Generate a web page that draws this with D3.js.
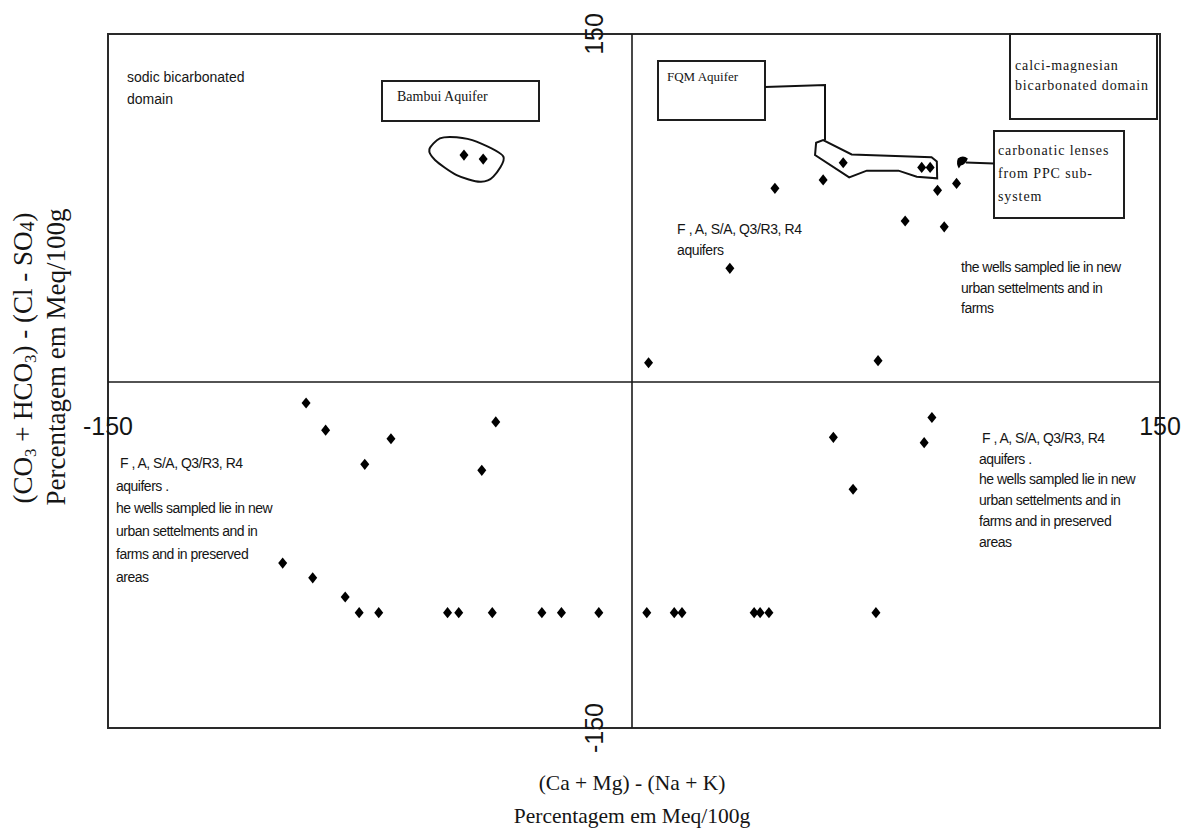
<!DOCTYPE html>
<html>
<head>
<meta charset="utf-8">
<script src="https://cdn.jsdelivr.net/npm/d3@7/dist/d3.min.js"></script>
<style>
  body { margin: 0; background: #fff; }
  text { fill: #151515; }
  .sans { font-family: "Liberation Sans", Arial, sans-serif; }
  .serif { font-family: "Liberation Serif", "Times New Roman", serif; }
</style>
</head>
<body>
<div id="chart"></div>
<script>
// values, in Meq/100g units
var xTicks = [-150, 150];
var yTicks = [150, -150];

var bambuiX = [-48.1, -42.6];
var bambuiY = [97.8, 96.1];

var fqmX = [60.0, 82.3, 84.7];
var fqmY = [94.5, 92.5, 92.5];

var lensX = [93.7];
var lensY = [95.0];

var upperRightX = [54.3, 40.6, 86.8, 92.2, 77.6, 88.7, 27.8, 4.7, 69.9];
var upperRightY = [87.1, 83.5, 82.6, 85.6, 69.4, 66.9, 49.0, 8.3, 9.2];

var lowerLeftX = [-93.3, -87.7, -69.0, -76.5, -39.0, -43.0, -100.0, -91.4, -82.1,
                  -78.1, -72.5, -52.8, -49.6, -40.0, -25.8, -20.2, -9.5];
var lowerLeftY = [-9.1, -20.9, -24.6, -35.7, -17.3, -38.3, -78.5, -84.9, -93.2,
                  -100, -100, -100, -100, -100, -100, -100, -100];

var lowerRightX = [4.2, 12.0, 14.2, 34.7, 36.4, 38.9, 69.3, 57.2, 85.2, 83.0, 62.8];
var lowerRightY = [-100, -100, -100, -100, -100, -100, -100, -24.0, -15.4, -26.3, -46.5];

// outlines drawn round the aquifer groups
var bambuiHullX = [-58.0, -55.0, -50.2, -44.5, -36.8, -39.7, -43.5, -50.2, -56.4];
var bambuiHullY = [100.3, 105.0, 105.5, 103.6, 97.1, 88.5, 86.3, 89.2, 95.7];
var fqmHullX = [52.3, 52.0, 61.7, 66.7, 75.7, 80.9, 86.7, 86.6, 85.1, 62.4, 54.3];
var fqmHullY = [103.1, 97.8, 88.2, 91.1, 91.1, 88.5, 87.8, 95.0, 96.9, 98.1, 104.3];

var w = 1184;
var h = 838;

var svg = d3.select("#chart").append("svg")
  .attr("width", w)
  .attr("height", h)
  .style("background", "#fff");

var x = d3.scaleLinear().domain([-150, 0, 150]).range([108, 632, 1160]);
var y = d3.scaleLinear().domain([-150, 0, 150]).range([728, 382, 34]);

function zip(xs, ys) {
  return xs.map(function(d, i) { return [d, ys[i]]; });
}

var allPoints = [].concat(
  zip(bambuiX, bambuiY),
  zip(fqmX, fqmY),
  zip(upperRightX, upperRightY),
  zip(lowerLeftX, lowerLeftY),
  zip(lowerRightX, lowerRightY)
);

// frame and crossing axes
svg.append("rect")
  .attr("x", x(-150)).attr("y", y(150))
  .attr("width", x(150) - x(-150))
  .attr("height", y(-150) - y(150))
  .attr("fill", "none")
  .attr("stroke", "#2a2a2a")
  .attr("stroke-width", 2);

svg.append("line")
  .attr("x1", x(-150)).attr("x2", x(150))
  .attr("y1", y(0)).attr("y2", y(0))
  .attr("stroke", "#1a1a1a").attr("stroke-width", 1.6);
svg.append("line")
  .attr("x1", x(0)).attr("x2", x(0))
  .attr("y1", y(150)).attr("y2", y(-150))
  .attr("stroke", "#1a1a1a").attr("stroke-width", 1.6);

// tick labels: x ticks sit under the horizontal axis, y ticks left of the vertical one
svg.selectAll(".xtick")
  .data(xTicks)
  .enter().append("text")
  .attr("class", "xtick sans")
  .attr("x", function(d) { return x(d); })
  .attr("y", y(0) + 53)
  .attr("text-anchor", "middle")
  .style("font-size", "25px")
  .text(function(d) { return d; });

svg.selectAll(".ytick")
  .data(yTicks)
  .enter().append("text")
  .attr("class", "ytick sans")
  .attr("transform", function(d) {
    return "translate(" + (x(0) - 29) + "," + y(d) + ") rotate(-90)";
  })
  .attr("text-anchor", "middle")
  .style("font-size", "25px")
  .text(function(d) { return d; });

// axis titles
var yTitle = svg.append("text")
  .attr("class", "serif")
  .attr("transform", "translate(32," + 358 + ") rotate(-90)")
  .attr("text-anchor", "middle")
  .style("font-size", "27px");
yTitle.append("tspan").text("(CO");
yTitle.append("tspan").attr("dy", 4).style("font-size", "17px").text("3");
yTitle.append("tspan").attr("dy", -4).text(" + HCO");
yTitle.append("tspan").attr("dy", 4).style("font-size", "17px").text("3");
yTitle.append("tspan").attr("dy", -4).text(") - (Cl - SO");
yTitle.append("tspan").attr("dy", 2).style("font-size", "20px").text("4");
yTitle.append("tspan").attr("dy", -2).text(")");

svg.append("text")
  .attr("class", "serif")
  .attr("transform", "translate(65," + 357 + ") rotate(-90)")
  .attr("text-anchor", "middle")
  .style("font-size", "27px")
  .text("Percentagem em Meq/100g");

svg.append("text")
  .attr("class", "serif")
  .attr("x", x(0)).attr("y", 790)
  .attr("text-anchor", "middle")
  .style("font-size", "21.5px")
  .text("(Ca + Mg) - (Na + K)");
svg.append("text")
  .attr("class", "serif")
  .attr("x", x(0)).attr("y", 823)
  .attr("text-anchor", "middle")
  .style("font-size", "21.5px")
  .text("Percentagem em Meq/100g");

// outlines
svg.append("path")
  .datum(zip(bambuiHullX, bambuiHullY))
  .attr("d", d3.line()
    .x(function(d) { return x(d[0]); })
    .y(function(d) { return y(d[1]); })
    .curve(d3.curveCardinalClosed.tension(0.2)))
  .attr("fill", "none").attr("stroke", "#111").attr("stroke-width", 2);

svg.append("path")
  .datum(zip(fqmHullX, fqmHullY))
  .attr("d", d3.line()
    .x(function(d) { return x(d[0]); })
    .y(function(d) { return y(d[1]); })
    .curve(d3.curveLinearClosed))
  .attr("fill", "none").attr("stroke", "#111").attr("stroke-width", 2);

// annotation boxes
function box(x0, y0, x1, y1) {
  svg.append("rect")
    .attr("x", x0).attr("y", y0)
    .attr("width", x1 - x0).attr("height", y1 - y0)
    .attr("fill", "#fff")
    .attr("stroke", "#1e1e1e")
    .attr("stroke-width", 2);
}
box(382, 81, 539, 121);
box(658, 61, 765, 120);
box(1010, 34, 1157, 119);
box(994, 131, 1124, 218);

// connectors
svg.append("path")
  .attr("d", "M765,87 L825,85 L825," + y(104.3))
  .attr("fill", "none").attr("stroke", "#111").attr("stroke-width", 2);
svg.append("line")
  .attr("x1", x(lensX[0]) + 4).attr("y1", y(lensY[0]) + 1)
  .attr("x2", 994).attr("y2", y(lensY[0]) + 2)
  .attr("stroke", "#111").attr("stroke-width", 2);

// carbonatic lens blob
svg.selectAll(".lens")
  .data(zip(lensX, lensY))
  .enter().append("path")
  .attr("class", "lens")
  .attr("transform", function(d) { return "translate(" + x(d[0]) + "," + y(d[1]) + ")"; })
  .attr("d", "M-4,-3 Q1,-7 6,-3 Q4,3 -1,4 L-3,7 Q-6,2 -4,-3 Z")
  .attr("fill", "#000");

// data markers
svg.selectAll(".pt")
  .data(allPoints)
  .enter().append("path")
  .attr("class", "pt")
  .attr("transform", function(d) { return "translate(" + x(d[0]) + "," + y(d[1]) + ")"; })
  .attr("d", "M0,-5.6L4.5,0L0,5.6L-4.5,0Z")
  .attr("fill", "#000");

// text notes
function note(cls, size, x0, y0, lines, lh, spacing) {
  var t = svg.append("text")
    .attr("class", cls)
    .style("font-size", size + "px")
    .style("letter-spacing", (spacing || 0) + "px");
  lines.forEach(function(l, i) {
    t.append("tspan")
      .attr("x", x0 + (l.dx || 0))
      .attr("y", y0 + i * lh)
      .text(l.t);
  });
}

note("sans", 14, 127, 82, [{t: "sodic bicarbonated"}, {t: "domain"}], 22, 0);
note("serif", 14, 397, 101, [{t: "Bambui Aquifer"}], 20, 0);
note("serif", 13, 667, 81, [{t: "FQM Aquifer"}], 20, 0);
note("serif", 14, 1015, 70, [{t: "calci-magnesian"}, {t: "bicarbonated domain"}], 20, 0.85);
note("serif", 14, 998, 155, [{t: "carbonatic lenses"}, {t: "from PPC sub-"}, {t: "system"}], 23, 0.9);
note("sans", 14, 677, 234, [{t: "F ,  A, S/A, Q3/R3, R4"}, {t: "aquifers"}], 21, -0.4);
note("sans", 14, 961, 272, [{t: "the wells sampled lie in new"}, {t: "urban settelments and in"}, {t: "farms"}], 20.5, -0.5);
note("sans", 14, 116, 468, [{t: "F ,  A, S/A, Q3/R3, R4", dx: 4}, {t: "aquifers ."},
  {t: "he wells sampled lie in new"}, {t: "urban settelments and in"},
  {t: "farms and in preserved"}, {t: "areas"}], 22.7, -0.5);
note("sans", 14, 979, 443, [{t: "F ,  A, S/A, Q3/R3, R4", dx: 3}, {t: "aquifers ."},
  {t: "he wells sampled lie in new"}, {t: "urban settelments and in"},
  {t: "farms and in preserved"}, {t: "areas"}], 20.7, -0.5);
</script>
</body>
</html>
